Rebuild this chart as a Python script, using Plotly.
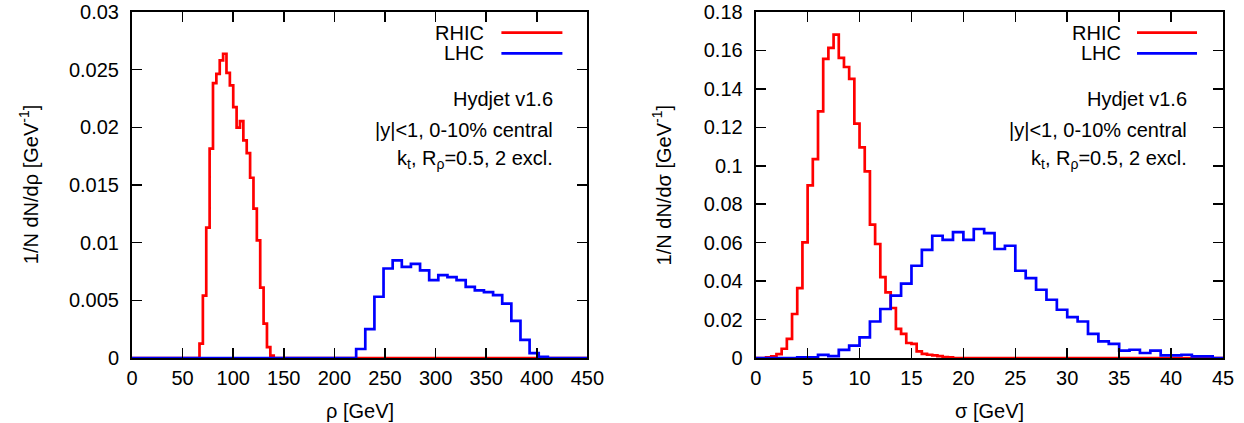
import plotly.graph_objects as go

# ---------------- data ----------------
# Left panel: rho [GeV]
rho_rhic_start = 66.7
rho_rhic_width = 3.333
rho_rhic_values = [0.00125, 0.0054, 0.0113, 0.01815, 0.02383, 0.02464, 0.0258, 0.02638,
                   0.02473, 0.02363, 0.02175, 0.01997, 0.02054, 0.01887, 0.01776, 0.01563,
                   0.01295, 0.0102, 0.0061, 0.00298, 0.00095, 0.0002]
rho_lhc_start = 221.5
rho_lhc_width = 9.02
rho_lhc_values = [0.00078, 0.0025, 0.00531, 0.00776, 0.00847, 0.0079, 0.00816, 0.00759,
                  0.00675, 0.00718, 0.00701, 0.00675, 0.00617, 0.00586, 0.00572, 0.00546,
                  0.00471, 0.00322, 0.00158, 0.00043, 0.0001]

# Right panel: sigma [GeV]
sig_rhic_start = 1.0
sig_rhic_width = 0.5
sig_rhic_values = [0.0004, 0.0008, 0.002, 0.0048, 0.0099, 0.0229, 0.0364, 0.0601, 0.0898,
                   0.1035, 0.1283, 0.1556, 0.1613, 0.1682, 0.1561, 0.1514, 0.1452, 0.1219,
                   0.1096, 0.0971, 0.0694, 0.0593, 0.0421, 0.0341, 0.026, 0.0151, 0.0126,
                   0.0078, 0.0074, 0.0034, 0.0021, 0.0017, 0.0014, 0.001, 0.0005, 0.0003]
sig_lhc_start = 4.0
sig_lhc_width = 1.0
sig_lhc_values = [0.0004, 0.0004, 0.0016, 0.0010, 0.0042, 0.0064, 0.0107, 0.019, 0.0255,
                  0.0324, 0.0387, 0.048, 0.0563, 0.0636, 0.0615, 0.0655, 0.0615, 0.0671,
                  0.065, 0.0567, 0.0584, 0.0454, 0.0416, 0.0355, 0.0303, 0.0251, 0.0213,
                  0.019, 0.0125, 0.0086, 0.0074, 0.0038, 0.0043, 0.0026, 0.0038, 0.0014,
                  0.0014, 0.0017, 0.0008, 0.0008]

rho_ticks = [0, 50, 100, 150, 200, 250, 300, 350, 400, 450]
rho_tick_labels = ["0", "50", "100", "150", "200", "250", "300", "350", "400", "450"]
rho_y_ticks = [0, 0.005, 0.01, 0.015, 0.02, 0.025, 0.03]
rho_y_tick_labels = ["0", "0.005", "0.01", "0.015", "0.02", "0.025", "0.03"]
sig_ticks = [0, 5, 10, 15, 20, 25, 30, 35, 40, 45]
sig_tick_labels = ["0", "5", "10", "15", "20", "25", "30", "35", "40", "45"]
sig_y_ticks = [0, 0.02, 0.04, 0.06, 0.08, 0.1, 0.12, 0.14, 0.16, 0.18]
sig_y_tick_labels = ["0", "0.02", "0.04", "0.06", "0.08", "0.1", "0.12", "0.14", "0.16", "0.18"]

series_names = ["RHIC", "LHC"]
info_lines = ["Hydjet v1.6", "|y|<1, 0-10% central", "k<sub>t</sub>, R<sub>ρ</sub>=0.5, 2 excl."]

RED = "#ff0000"
BLUE = "#0000ff"
FONT = "Liberation Sans"
FS = 20


def step_xy(start, width, values, xmax):
    """Histogram outline (zero padded over the full axis range)."""
    xs = [0.0]
    ys = [0.0]
    for i, v in enumerate(values):
        xs.append(start + i * width)
        ys.append(v)
    xs.append(start + len(values) * width)
    ys.append(0.0)
    xs.append(xmax)
    ys.append(0.0)
    return xs, ys


fig = go.Figure()

for (start, width, vals, col, xa, ya, xmax) in [
    (rho_rhic_start, rho_rhic_width, rho_rhic_values, RED, "x", "y", 450),
    (rho_lhc_start, rho_lhc_width, rho_lhc_values, BLUE, "x", "y", 450),
    (sig_rhic_start, sig_rhic_width, sig_rhic_values, RED, "x2", "y2", 45),
    (sig_lhc_start, sig_lhc_width, sig_lhc_values, BLUE, "x2", "y2", 45),
]:
    xs, ys = step_xy(start, width, vals, xmax)
    fig.add_trace(go.Scatter(x=xs, y=ys, mode="lines", line=dict(color=col, width=2.7, shape="hv"),
                             xaxis=xa, yaxis=ya, showlegend=False, hoverinfo="skip"))

W, H = 1244, 423
PLOT_L, PLOT_R, PLOT_T, PLOT_B = 132.3, 1223.3, 12, 358
ML, MR, MT, MB = PLOT_L, W - PLOT_R, PLOT_T, H - PLOT_B
PW = W - ML - MR
PH = H - MT - MB


def px(xp):
    return (xp - ML) / PW


def py(yp):
    return (PLOT_B - yp) / PH


axis_common = dict(showline=True, linecolor="black", linewidth=2, mirror="ticks",
                   ticks="inside", ticklen=10, tickwidth=1.5, tickcolor="black",
                   showgrid=False, zeroline=False, automargin=False, ticklabeloverflow="allow",
                   tickfont=dict(family=FONT, size=FS, color="black"))

left_dom = [0.0, px(587.7)]
right_dom = [px(756.0), 1.0]

fig.update_layout(
    width=W, height=H,
    margin=dict(l=ML, r=MR, t=MT, b=MB, pad=0, autoexpand=False),
    paper_bgcolor="white", plot_bgcolor="white",
    showlegend=False,
    font=dict(family=FONT, size=FS, color="black"),
    xaxis=dict(domain=left_dom, range=[0, 450], tickvals=rho_ticks, ticktext=rho_tick_labels,
               anchor="y", ticklabelstandoff=1, **axis_common),
    yaxis=dict(domain=[0, 1], range=[0, 0.03], tickvals=rho_y_ticks, ticktext=rho_y_tick_labels,
               anchor="x", ticklabelstandoff=7, **axis_common),
    xaxis2=dict(domain=right_dom, range=[0, 45], tickvals=sig_ticks, ticktext=sig_tick_labels,
                anchor="y2", ticklabelstandoff=1, **axis_common),
    yaxis2=dict(domain=[0, 1], range=[0, 0.18], tickvals=sig_y_ticks, ticktext=sig_y_tick_labels,
                anchor="x2", ticklabelstandoff=7, **axis_common),
)

afont = dict(family=FONT, size=FS, color="black")
ann = []
shapes = []
# axis titles
ann.append(dict(text="ρ [GeV]", x=px(360), y=py(411.5), xref="paper", yref="paper", font=afont,
                showarrow=False, xanchor="center", yanchor="middle"))
ann.append(dict(text="σ [GeV]", x=px(989.5), y=py(411.5), xref="paper", yref="paper", font=afont,
                showarrow=False, xanchor="center", yanchor="middle"))
ann.append(dict(text="1/N dN/dρ [GeV<sup>-1</sup>]", x=px(28.5), y=py(185), xref="paper", yref="paper",
                font=afont, showarrow=False, xanchor="center", yanchor="middle", textangle=-90))
ann.append(dict(text="1/N dN/dσ [GeV<sup>-1</sup>]", x=px(661.7), y=py(185), xref="paper", yref="paper",
                font=afont, showarrow=False, xanchor="center", yanchor="middle", textangle=-90))

# legends (gnuplot style: text right-aligned, sample line to its right)
for (txt_right, l0, l1) in [(486.7, 501.7, 562.7), (1123.3, 1137.3, 1197.3)]:
    for name, col, yl in zip(series_names, [RED, BLUE], [32.7, 53.3]):
        ann.append(dict(text=name, x=px(txt_right), y=py(yl), xref="paper", yref="paper", font=afont,
                        showarrow=False, xanchor="right", yanchor="middle"))
        shapes.append(dict(type="line", xref="paper", yref="paper", x0=px(l0), x1=px(l1),
                           y0=py(yl), y1=py(yl), line=dict(color=col, width=2.7)))

# info text blocks
for right_edge in [555.0, 1189.3]:
    for line, yl in zip(info_lines, [99.3, 130.0, 159.0]):
        ann.append(dict(text=line, x=px(right_edge), y=py(yl), xref="paper", yref="paper", font=afont,
                        showarrow=False, xanchor="right", yanchor="middle"))

fig.update_layout(annotations=ann, shapes=shapes)
fig.write_html("out.html", config={"displayModeBar": False, "staticPlot": True},
               post_script="document.body.style.margin='0px';")
